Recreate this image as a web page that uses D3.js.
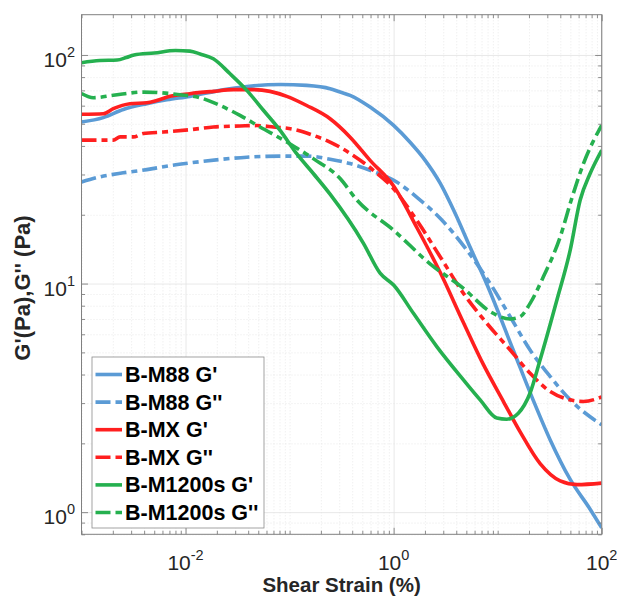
<!DOCTYPE html>
<html>
<head>
<meta charset="utf-8">
<script src="https://cdn.jsdelivr.net/npm/d3@7"></script>
<style>
  body { margin: 0; background: #fff; }
  svg text { font-family: "Liberation Sans", Arial, Helvetica, sans-serif; }
</style>
</head>
<body>
<div class="container"></div>
<script>
// Prepare width and height for the SVG container
const width = 617;
const height = 604;

// Axis limits and labelled decades
const xDomain = [1e-3, 1e2];
const yDomain = [0.8, 150];
const xLabelExps = [-2, 0, 2];
const yLabelExps = [0, 1, 2];

// Series names (legend order)
const seriesNames = ["B-M88 G'", "B-M88 G''", "B-MX G'", "B-MX G''", "B-M1200s G'", "B-M1200s G''"];

// B-M88
const strainM88Gp = [0.001, 0.00162, 0.00252, 0.00424, 0.0066, 0.011, 0.0215, 0.0388, 0.0811, 0.146, 0.245, 0.306, 0.382, 0.594, 1.0, 1.44, 2.01, 2.80, 3.90, 5.44, 7.93, 14.1, 21.9, 32.0, 49.8, 77.4, 100];
const m88Gp = [50.9, 53.2, 57.7, 61.2, 63.7, 65.9, 70.0, 72.8, 74.3, 73.6, 71.2, 68.8, 66.6, 59.2, 49.2, 41.5, 34.6, 27.5, 20.3, 14.4, 9.85, 5.12, 3.10, 2.07, 1.39, 1.03, 0.853];
const strainM88Gpp = [0.001, 0.00151, 0.00252, 0.00424, 0.0071, 0.011, 0.0215, 0.0388, 0.0811, 0.146, 0.245, 0.382, 0.594, 1.07, 1.72, 2.80, 5.06, 8.47, 13.2, 20.5, 32.0, 49.8, 100];
const m88Gpp = [27.8, 29.3, 30.5, 31.5, 32.8, 33.7, 34.9, 35.7, 36.1, 36.1, 35.0, 33.5, 31.3, 27.8, 23.6, 19.3, 14.0, 10.0, 7.16, 5.12, 3.92, 3.10, 2.41];

// B-MX
const strainMxGp = [0.001, 0.00162, 0.00202, 0.00293, 0.00424, 0.00528, 0.0071, 0.011, 0.0185, 0.0288, 0.0449, 0.0649, 0.094, 0.146, 0.245, 0.382, 0.594, 1.0, 1.68, 2.80, 4.66, 7.24, 11.4, 16.4, 25.6, 39.9, 58.0, 100];
const mxGp = [55.0, 55.3, 58.2, 61.2, 61.8, 63.2, 65.9, 67.7, 69.3, 70.5, 70.5, 69.3, 65.9, 60.1, 52.6, 43.7, 34.6, 26.7, 17.5, 11.2, 6.79, 4.45, 3.04, 2.25, 1.63, 1.37, 1.32, 1.34];
const strainMxGpp = [0.001, 0.00202, 0.00235, 0.00315, 0.00393, 0.00612, 0.011, 0.0185, 0.0334, 0.0484, 0.0699, 0.109, 0.169, 0.245, 0.382, 0.639, 1.0, 1.67, 2.80, 4.69, 7.87, 13.2, 20.5, 32.0, 49.8, 66.8, 100];
const mxGpp = [42.4, 42.4, 43.8, 43.8, 45.3, 46.0, 47.1, 48.4, 48.9, 49.1, 48.4, 47.3, 44.5, 41.6, 37.1, 31.3, 26.0, 18.9, 13.1, 9.06, 6.70, 5.12, 4.05, 3.37, 3.10, 3.05, 3.19];

// B-M1200s
const strainM1200Gp = [0.001, 0.0015, 0.0022, 0.0027, 0.0032, 0.005, 0.008, 0.011, 0.0138, 0.0185, 0.0268, 0.0388, 0.056, 0.0811, 0.117, 0.169, 0.245, 0.513, 0.741, 1.0, 1.55, 2.60, 4.69, 6.79, 9.82, 12.2, 15.8, 20.5, 25.6, 37.1, 49.8, 62.1, 77.4, 100];
const m1200Gp = [92.5, 94.5, 95.0, 97.5, 100, 102, 104.6, 103.9, 101, 96.2, 82.7, 70.0, 57.3, 46.8, 37.0, 30.3, 24.6, 15.0, 11.1, 9.85, 7.41, 5.30, 3.79, 3.10, 2.58, 2.55, 2.71, 3.32, 4.64, 8.47, 14.0, 23.2, 30.3, 38.3];
const strainM1200Gpp = [0.001, 0.0013, 0.00202, 0.00393, 0.00885, 0.0138, 0.0215, 0.0334, 0.052, 0.094, 0.169, 0.306, 0.443, 1.0, 2.24, 4.69, 8.47, 13.2, 16.4, 20.5, 27.5, 39.9, 51.0, 66.8, 100];
const m1200Gpp = [67.8, 65.0, 66.6, 68.8, 67.0, 65.0, 60.1, 54.4, 48.4, 41.6, 35.2, 28.8, 23.2, 17.1, 12.2, 9.53, 7.54, 7.00, 7.16, 8.19, 10.7, 16.0, 23.2, 33.5, 49.2];

const strains = [strainM88Gp, strainM88Gpp, strainMxGp, strainMxGpp, strainM1200Gp, strainM1200Gpp];
const moduli = [m88Gp, m88Gpp, mxGp, mxGpp, m1200Gp, m1200Gpp];

// Styles
const colors = ["#5b9bd5", "#5b9bd5", "#ff1f1f", "#ff1f1f", "#25b04f", "#25b04f"];
const dashed = [false, true, false, true, false, true];
const dashPattern = "15,5,6,5";

// Plot box
const plotLeft = 81.5, plotRight = 601.7, plotTop = 14.7, plotBottom = 534.3;

const x = d3.scaleLog().domain(xDomain).range([plotLeft, plotRight]);
const y = d3.scaleLog().domain(yDomain).range([plotBottom, plotTop]);

const svg = d3.select(".container").append("svg")
    .attr("width", width)
    .attr("height", height);

// minor / major tick values over the domain
function logTicks(domain) {
  let out = [];
  for (let e = -4; e <= 3; e++) {
    for (let k = 1; k <= 9; k++) {
      let v = k * Math.pow(10, e);
      if (v >= domain[0] * 0.9999 && v <= domain[1] * 1.0001) out.push(v);
    }
  }
  return out;
}
const xMajor = xLabelExps.map(e => Math.pow(10, e));
const yMajor = yLabelExps.map(e => Math.pow(10, e));
const isMajor = (v, list) => list.some(m => Math.abs(Math.log10(v) - Math.log10(m)) < 1e-6);
const xMinor = logTicks(xDomain).filter(v => !isMajor(v, xMajor));
const yMinor = logTicks(yDomain).filter(v => !isMajor(v, yMajor));

const W = plotRight - plotLeft, H = plotBottom - plotTop;

// grid lines
function grid(g, color, dash) {
  g.select(".domain").remove();
  g.selectAll(".tick line").attr("stroke", color).attr("stroke-width", 0.8).attr("stroke-dasharray", dash);
  g.selectAll(".tick text").remove();
}
svg.append("g").attr("transform", `translate(0,${plotBottom})`)
  .call(d3.axisBottom(x).tickValues(xMinor).tickSize(-H).tickFormat(""))
  .call(grid, "#e4e4e4", "1,2");
svg.append("g").attr("transform", `translate(${plotLeft},0)`)
  .call(d3.axisLeft(y).tickValues(yMinor).tickSize(-W).tickFormat(""))
  .call(grid, "#e4e4e4", "1,2");
svg.append("g").attr("transform", `translate(0,${plotBottom})`)
  .call(d3.axisBottom(x).tickValues(xMajor).tickSize(-H).tickFormat(""))
  .call(grid, "#e2e2e2", null);
svg.append("g").attr("transform", `translate(${plotLeft},0)`)
  .call(d3.axisLeft(y).tickValues(yMajor).tickSize(-W).tickFormat(""))
  .call(grid, "#e2e2e2", null);

// curves
const line = d3.line()
    .x(d => x(d[0]))
    .y(d => y(d[1]))
    .curve(d3.curveMonotoneX);

svg.append("defs").append("clipPath").attr("id", "clip")
  .append("rect").attr("x", plotLeft).attr("y", plotTop).attr("width", W).attr("height", H);

svg.append("g").attr("clip-path", "url(#clip)")
  .selectAll("path")
  .data(seriesNames)
  .enter().append("path")
    .attr("d", (d, i) => line(strains[i].map((s, j) => [s, moduli[i][j]])))
    .attr("fill", "none")
    .attr("stroke", (d, i) => colors[i])
    .attr("stroke-width", 3.6)
    .attr("stroke-linejoin", "round")
    .attr("stroke-dasharray", (d, i) => dashed[i] ? dashPattern : null);

// ticks on all four sides
function ticks(g) {
  g.select(".domain").remove();
  g.selectAll(".tick line").attr("stroke", "#7f7f7f").attr("stroke-width", 0.9);
  g.selectAll(".tick text").remove();
}
const tickSides = [
  [d3.axisBottom, x, `translate(0,${plotBottom})`],
  [d3.axisTop, x, `translate(0,${plotTop})`],
  [d3.axisLeft, y, `translate(${plotLeft},0)`],
  [d3.axisRight, y, `translate(${plotRight},0)`]
];
tickSides.forEach(([ax, sc, tr]) => {
  const major = sc === x ? xMajor : yMajor;
  const minor = sc === x ? xMinor : yMinor;
  svg.append("g").attr("transform", tr).call(ax(sc).tickValues(minor).tickSize(-3.5).tickFormat("")).call(ticks);
  svg.append("g").attr("transform", tr).call(ax(sc).tickValues(major).tickSize(-6.5).tickFormat("")).call(ticks);
});

// box
svg.append("rect")
  .attr("x", plotLeft).attr("y", plotTop).attr("width", W).attr("height", H)
  .attr("fill", "none").attr("stroke", "#808080").attr("stroke-width", 1);

// tick labels 10^n
const xl = svg.append("g").selectAll("text").data(xLabelExps).enter().append("text")
  .attr("x", d => x(Math.pow(10, d)))
  .attr("y", 570)
  .attr("text-anchor", "middle")
  .attr("fill", "#262626")
  .attr("font-size", 21);
xl.append("tspan").text("10");
xl.append("tspan").attr("dy", -10).attr("font-size", 14.5).text(d => d < 0 ? "-" + (-d) : d);

const yl = svg.append("g").selectAll("text").data(yLabelExps).enter().append("text")
  .attr("x", 75)
  .attr("y", d => y(Math.pow(10, d)) + 12)
  .attr("text-anchor", "end")
  .attr("fill", "#262626")
  .attr("font-size", 21);
yl.append("tspan").text("10");
yl.append("tspan").attr("dy", -10).attr("font-size", 14.5).text(d => d);

// axis titles
svg.append("text")
  .attr("x", (plotLeft + plotRight) / 2)
  .attr("y", 592)
  .attr("text-anchor", "middle")
  .attr("font-weight", "bold")
  .attr("font-size", 20.5)
  .attr("fill", "#262626")
  .text("Shear Strain (%)");

svg.append("text")
  .attr("transform", `translate(29.5,288) rotate(-90)`)
  .attr("text-anchor", "middle")
  .attr("font-weight", "bold")
  .attr("font-size", 22)
  .attr("fill", "#262626")
  .text("G'(Pa),G'' (Pa)");

// legend
const legend = svg.append("g").attr("class", "legend");
legend.append("rect")
  .attr("x", 92).attr("y", 357).attr("width", 172).attr("height", 171)
  .attr("fill", "#fff").attr("stroke", "#8c8c8c").attr("stroke-width", 0.8);
const rows = legend.selectAll("g.row").data(seriesNames).enter().append("g")
  .attr("class", "row")
  .attr("transform", (d, i) => `translate(0,${374.5 + i * 27.6})`);
rows.append("line")
  .attr("x1", 95.5).attr("x2", 122)
  .attr("stroke", (d, i) => colors[i])
  .attr("stroke-width", 3.6)
  .attr("stroke-dasharray", (d, i) => dashed[i] ? "15,5,7,5" : null);
rows.append("text")
  .attr("x", 125)
  .attr("y", 7.5)
  .attr("font-weight", "bold")
  .attr("font-size", 21.5)
  .attr("fill", "#000")
  .text(d => d);
</script>
</body>
</html>
